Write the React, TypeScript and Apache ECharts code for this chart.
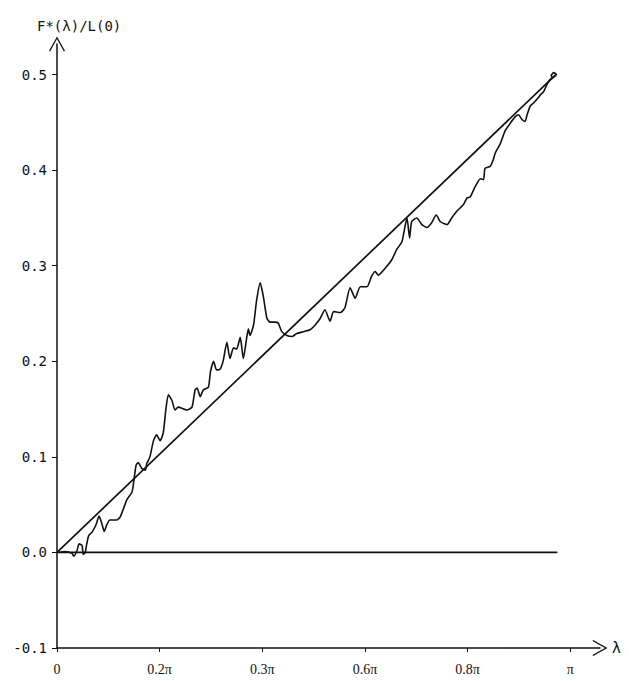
import React, { useEffect, useRef } from "react";
import * as echarts from "echarts";

// x values are in units of π
const xTickValues = [0, 0.2, 0.4, 0.6, 0.8, 1.0];
const xTickLabels = ["0", "0.2π", "0.3π", "0.6π", "0.8π", "π"];
const yTickValues = [-0.1, 0, 0.1, 0.2, 0.3, 0.4, 0.5];
const yTickLabels = ["-0.1", "0.0", "0.1", "0.2", "0.3", "0.4", "0.5"];

const curveLambda = [
  0.004, 0.016, 0.029, 0.033, 0.039, 0.043, 0.049, 0.051, 0.055, 0.058,
  0.062, 0.068, 0.076, 0.082, 0.088, 0.092, 0.097, 0.103, 0.116, 0.123,
  0.136, 0.146, 0.149, 0.154, 0.158, 0.165, 0.172, 0.175, 0.181, 0.188,
  0.194, 0.201, 0.207, 0.212, 0.217, 0.224, 0.23, 0.236, 0.253, 0.263,
  0.269, 0.273, 0.279, 0.285, 0.295, 0.299, 0.305, 0.311, 0.318, 0.324,
  0.331, 0.337, 0.344, 0.35, 0.357, 0.363, 0.37, 0.373, 0.376, 0.383,
  0.389, 0.396, 0.402, 0.409, 0.415, 0.425, 0.431, 0.438, 0.448, 0.458,
  0.467, 0.48, 0.493, 0.503, 0.513, 0.522, 0.532, 0.539, 0.552, 0.561,
  0.571, 0.581, 0.591, 0.604, 0.613, 0.62, 0.626, 0.639, 0.652, 0.662,
  0.672, 0.678, 0.682, 0.687, 0.691, 0.701, 0.711, 0.721, 0.73, 0.739,
  0.747, 0.76, 0.769, 0.779, 0.792, 0.799, 0.805, 0.815, 0.825, 0.831,
  0.834, 0.844, 0.85, 0.854, 0.864, 0.873, 0.883, 0.893, 0.899, 0.906,
  0.912, 0.916, 0.922, 0.928, 0.938, 0.942, 0.948, 0.955, 0.961, 0.967,
  0.973, 0.968, 0.963, 0.966,
];
const curveValue = [
  0.0, 0.001, -0.001, -0.004, 0.002, 0.009, 0.007, -0.002, 0.0, 0.009,
  0.018, 0.021, 0.029, 0.038, 0.029, 0.022, 0.029, 0.034, 0.034, 0.037,
  0.055, 0.063, 0.072, 0.091, 0.094, 0.088, 0.086, 0.093, 0.1, 0.117,
  0.123, 0.117, 0.125, 0.149, 0.165, 0.159, 0.149, 0.152, 0.149, 0.152,
  0.17, 0.172, 0.163, 0.17, 0.173, 0.189, 0.2, 0.191, 0.192, 0.201,
  0.22, 0.203, 0.214, 0.213, 0.225, 0.203, 0.226, 0.234, 0.227, 0.238,
  0.264, 0.282, 0.268, 0.245, 0.241, 0.241, 0.24, 0.231, 0.227, 0.226,
  0.229, 0.231, 0.233, 0.238, 0.245, 0.254, 0.242, 0.252, 0.251, 0.256,
  0.277, 0.266, 0.278, 0.278, 0.289, 0.294, 0.29, 0.297, 0.306, 0.317,
  0.325, 0.341, 0.35, 0.329, 0.346, 0.35, 0.343, 0.34, 0.345, 0.353,
  0.346, 0.343, 0.35, 0.357, 0.364, 0.371, 0.372, 0.383, 0.391, 0.39,
  0.402, 0.404, 0.411, 0.418, 0.428, 0.441, 0.449, 0.456, 0.458, 0.453,
  0.451, 0.458, 0.467, 0.47, 0.476, 0.479, 0.482, 0.49, 0.495, 0.497,
  0.5, 0.502, 0.499, 0.496,
];

const lineLambda = [0, 0.972];
const lineValue = [0, 0.5];
const zeroLambda = [0, 0.975];
const zeroValue = [0, 0];

const chevron = "path://M50 0 L100 90 L93 95 L50 17 L7 95 L0 90 Z";

function pick(values: number[], labels: string[], v: number) {
  const i = values.findIndex((t) => Math.abs(t - v) < 1e-6);
  return i >= 0 ? labels[i] : "";
}

export default function App() {
  const ref = useRef<HTMLDivElement>(null);
  useEffect(() => {
    if (!ref.current) return;
    const chart = echarts.init(ref.current, null, { renderer: "svg" });
    const black = "#111";
    const option: any = {
      animation: false,
      backgroundColor: "#fff",
      title: {
        text: "F*(λ)/L(0)",
        left: 32,
        top: 14,
        textStyle: {
          fontFamily: "DejaVu Sans Mono",
          fontSize: 14,
          fontWeight: "normal",
          color: black,
        },
      },
      grid: {
        left: 57,
        right: 29,
        top: 44,
        bottom: 33,
        containLabel: false,
        outerBoundsMode: "none",
      },
      xAxis: {
        type: "value",
        min: 0,
        max: 1.058,
        name: "λ",
        nameLocation: "end",
        nameGap: 12,
        nameTextStyle: { fontFamily: "DejaVu Sans", fontSize: 15, color: black },
        splitLine: { show: false },
        axisLine: {
          onZero: false,
          symbol: ["none", chevron],
          symbolSize: [16, 18],
          lineStyle: { color: black, width: 1.5 },
        },
        axisTick: {
          show: true,
          length: 4,
          customValues: xTickValues,
          lineStyle: { color: black, width: 1 },
        },
        axisLabel: {
          customValues: xTickValues,
          margin: 14,
          fontFamily: "Liberation Serif",
          fontSize: 14,
          color: black,
          formatter: (v: number) => pick(xTickValues, xTickLabels, v),
        },
      },
      yAxis: {
        type: "value",
        min: -0.1,
        max: 0.532,
        splitLine: { show: false },
        axisLine: {
          show: true,
          onZero: false,
          symbol: ["none", chevron],
          symbolSize: [16, 18],
          lineStyle: { color: black, width: 1.5 },
        },
        axisTick: {
          show: true,
          length: 5,
          customValues: yTickValues,
          lineStyle: { color: black, width: 1 },
        },
        axisLabel: {
          customValues: yTickValues,
          margin: 10,
          fontFamily: "DejaVu Sans Mono",
          fontSize: 14,
          color: black,
          formatter: (v: number) => pick(yTickValues, yTickLabels, v),
        },
      },
      series: [
        {
          type: "line",
          data: zeroLambda.map((x, i) => [x, zeroValue[i]]),
          showSymbol: false,
          lineStyle: { color: black, width: 1.7 },
        },
        {
          type: "line",
          data: lineLambda.map((x, i) => [x, lineValue[i]]),
          showSymbol: false,
          lineStyle: { color: black, width: 1.7 },
        },
        {
          type: "line",
          data: curveLambda.map((x, i) => [x, curveValue[i]]),
          showSymbol: false,
          smooth: 0.2,
          lineStyle: { color: black, width: 1.6 },
        },
      ],
    };
    chart.setOption(option);
    return () => chart.dispose();
  }, []);
  return (
    <div
      ref={ref}
      style={{ position: "fixed", left: 0, top: 0, width: 629, height: 681, background: "#fff" }}
    />
  );
}
